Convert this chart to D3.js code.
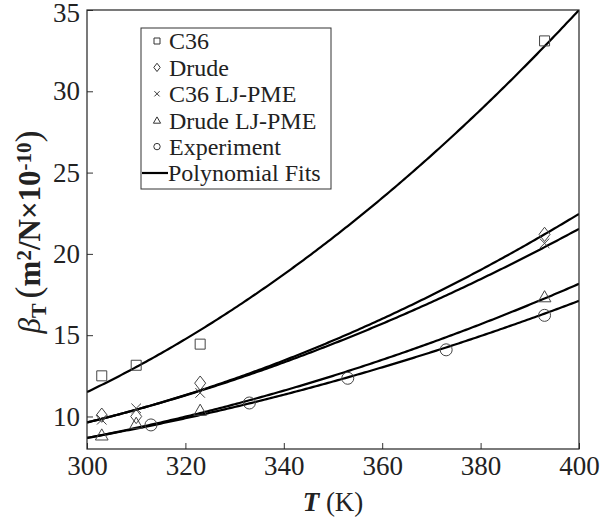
<!DOCTYPE html>
<html>
<head>
<meta charset="utf-8">
<script src="https://cdn.jsdelivr.net/npm/d3@7"></script>
</head>
<body style="margin:0">
<script>
// compressibility vs temperature
var seriesNames = ['C36', 'Drude', 'C36 LJ-PME', 'Drude LJ-PME', 'Experiment'];

var c36T = [303, 310, 323, 393];
var c36Beta = [12.5, 13.15, 14.45, 33.1];
var drudeT = [303, 310, 323, 393];
var drudeBeta = [10.08, 10.0, 12.05, 21.2];
var c36LjT = [303, 310, 323, 393];
var c36LjBeta = [9.8, 10.5, 11.45, 20.65];
var drudeLjT = [303, 310, 323, 393];
var drudeLjBeta = [8.88, 9.6, 10.4, 17.38];
var exptT = [313, 333, 353, 373, 393];
var exptBeta = [9.48, 10.83, 12.35, 14.1, 16.22];

// quadratic fit coefficients in u = (T - 350) / 50 : [c0, c1, c2]
var c36Fit = [21.0, 11.75, 2.25];
var drudeFit = [14.67, 6.415, 1.375];
var c36LjFit = [14.47, 5.955, 1.115];
var drudeLjFit = [12.5, 4.74, 0.92];
var exptFit = [12.15, 4.215, 0.745];

var xTicks = [300, 320, 340, 360, 380, 400];
var yTicks = [10, 15, 20, 25, 30, 35];

var width = 600, height = 520;
var margin = { top: 10, right: 21, bottom: 71, left: 87 };

var x = d3.scaleLinear().domain([300, 400]).range([margin.left, width - margin.right]);
var y = d3.scaleLinear().domain([8, 35]).range([height - margin.bottom, margin.top]);

var svg = d3.select('body').append('svg').attr('width', width).attr('height', height)
    .style('font-family', '"Liberation Serif"');

function serif(sel, size) {
    return sel.style('font-family', '"Liberation Serif"').style('font-size', size + 'px').attr('fill', '#222');
}

svg.append('clipPath').attr('id', 'plot-clip').append('rect')
    .attr('x', x(300)).attr('y', y(35)).attr('width', x(400) - x(300)).attr('height', y(8) - y(35));

// marker shapes (size = half width)
var squareSym = { draw: function(ctx, s) { ctx.rect(-s, -s, 2 * s, 2 * s); } };
var diamondSym = { draw: function(ctx, s) { ctx.moveTo(0, -1.3 * s); ctx.lineTo(s, 0); ctx.lineTo(0, 1.3 * s); ctx.lineTo(-s, 0); ctx.closePath(); } };
var crossSym = { draw: function(ctx, s) { ctx.moveTo(-s, -s); ctx.lineTo(s, s); ctx.moveTo(s, -s); ctx.lineTo(-s, s); } };
var triSym = { draw: function(ctx, s) { ctx.moveTo(0, -1.1 * s); ctx.lineTo(1.2 * s, s); ctx.lineTo(-1.2 * s, s); ctx.closePath(); } };
var circSym = { draw: function(ctx, s) { ctx.moveTo(s, 0); ctx.arc(0, 0, s, 0, 2 * Math.PI); } };

var series = [
    { name: seriesNames[0], t: c36T, b: c36Beta, fit: c36Fit, sym: squareSym, size: 5, legSize: 3 },
    { name: seriesNames[1], t: drudeT, b: drudeBeta, fit: drudeFit, sym: diamondSym, size: 5.5, legSize: 3.2 },
    { name: seriesNames[2], t: c36LjT, b: c36LjBeta, fit: c36LjFit, sym: crossSym, size: 4.8, legSize: 2.6 },
    { name: seriesNames[3], t: drudeLjT, b: drudeLjBeta, fit: drudeLjFit, sym: triSym, size: 5.3, legSize: 3 },
    { name: seriesNames[4], t: exptT, b: exptBeta, fit: exptFit, sym: circSym, size: 6, legSize: 3.2 }
];

function fitValue(c, T) {
    var u = (T - 350) / 50;
    return c[0] + c[1] * u + c[2] * u * u;
}

// axes with inward ticks
var xAxis = svg.append('g').attr('transform', 'translate(0,' + y(8) + ')')
    .call(d3.axisBottom(x).tickValues(xTicks).tickSize(-6).tickPadding(7).tickFormat(d3.format('d')));
xAxis.attr('font-family', null).attr('font-size', null);
xAxis.select('.domain').remove();
xAxis.selectAll('line').attr('stroke', '#333');
serif(xAxis.selectAll('text'), 27);

var yAxis = svg.append('g').attr('transform', 'translate(' + x(300) + ',0)')
    .call(d3.axisLeft(y).tickValues(yTicks).tickSize(-6).tickPadding(7).tickFormat(d3.format('d')));
yAxis.attr('font-family', null).attr('font-size', null);
yAxis.select('.domain').remove();
yAxis.selectAll('line').attr('stroke', '#333');
serif(yAxis.selectAll('text'), 27);
yAxis.selectAll('text').filter(function(d) { return d === 35; }).attr('dy', '0.42em');

// fit curves
var fitSamples = d3.range(300, 400.01, 0.5);
var line = d3.line().x(function(d) { return x(d[0]); }).y(function(d) { return y(d[1]); });
var fits = svg.append('g').attr('clip-path', 'url(#plot-clip)');
series.forEach(function(s) {
    fits.append('path')
        .attr('d', line(fitSamples.map(function(T) { return [T, fitValue(s.fit, T)]; })))
        .attr('fill', 'none').attr('stroke', '#000').attr('stroke-width', 2.2);
});

// data markers
series.forEach(function(s) {
    svg.append('g').selectAll('path').data(s.t).enter().append('path')
        .attr('transform', function(d, i) { return 'translate(' + x(d) + ',' + y(s.b[i]) + ')'; })
        .attr('d', d3.symbol().type(s.sym).size(s.size))
        .attr('fill', 'none').attr('stroke', '#444').attr('stroke-width', 1);
});

// frame
svg.append('rect')
    .attr('x', x(300)).attr('y', y(35)).attr('width', x(400) - x(300)).attr('height', y(8) - y(35))
    .attr('fill', 'none').attr('stroke', '#222').attr('stroke-width', 1.2);

// legend
var leg = svg.append('g').attr('transform', 'translate(141,28)');
leg.append('rect').attr('width', 190).attr('height', 161)
    .attr('fill', '#fff').attr('stroke', '#333').attr('stroke-width', 1);
var rowY = d3.scalePoint().domain(seriesNames.concat(['Polynomial Fits'])).range([13, 145]);
series.forEach(function(s) {
    leg.append('path')
        .attr('transform', 'translate(16,' + rowY(s.name) + ')')
        .attr('d', d3.symbol().type(s.sym).size(s.legSize))
        .attr('fill', 'none').attr('stroke', '#333').attr('stroke-width', 1);
    serif(leg.append('text').attr('x', 28).attr('y', rowY(s.name)).attr('dy', '0.35em'), 24).text(s.name);
});
leg.append('line').attr('x1', 1).attr('x2', 27)
    .attr('y1', rowY('Polynomial Fits')).attr('y2', rowY('Polynomial Fits'))
    .attr('stroke', '#000').attr('stroke-width', 2.2);
serif(leg.append('text').attr('x', 27).attr('y', rowY('Polynomial Fits')).attr('dy', '0.35em'), 24).text('Polynomial Fits');

// axis titles
var xt = serif(svg.append('text').attr('x', (x(300) + x(400)) / 2).attr('y', 511).attr('text-anchor', 'middle'), 27);
xt.append('tspan').attr('font-weight', 'bold').attr('font-style', 'italic').text('T');
xt.append('tspan').text(' (K)');

var yt = serif(svg.append('text').attr('transform', 'translate(40,232) rotate(-90)').attr('text-anchor', 'middle'), 31);
yt.append('tspan').attr('font-style', 'italic').text('\u03b2');
yt.append('tspan').attr('font-weight', 'bold').attr('baseline-shift', '-25%').style('font-size', '22px').text('T');
yt.append('tspan').attr('dx', 5).style('font-size', '36px').text('(');
yt.append('tspan').attr('font-weight', 'bold').text('m');
yt.append('tspan').attr('font-weight', 'bold').attr('baseline-shift', '45%').style('font-size', '21px').text('2');
yt.append('tspan').attr('font-weight', 'bold').text('/N\u00d710');
yt.append('tspan').attr('font-weight', 'bold').attr('baseline-shift', '45%').style('font-size', '21px').text('-10');
yt.append('tspan').style('font-size', '36px').text(')');
</script>
</body>
</html>
